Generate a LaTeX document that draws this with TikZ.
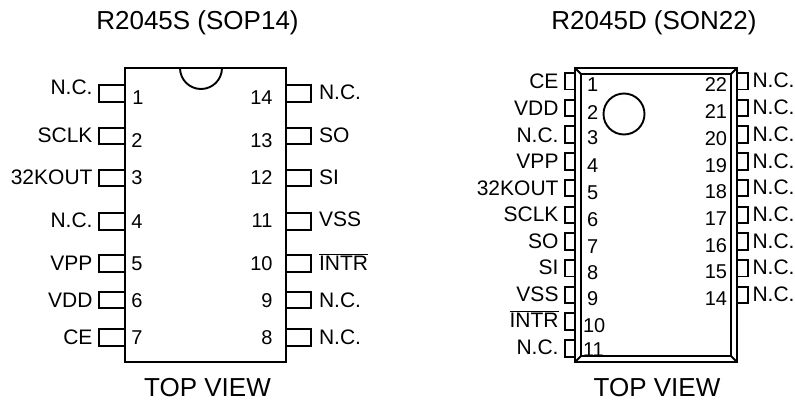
\documentclass[tikz,border=0pt]{standalone}
\usepackage{fontspec}
\setmainfont{Liberation Sans}
\usepackage{tikz}
\newdimen\pinHeight
\pinHeight=16.5pt

\begin{document}
\begin{tikzpicture}[
    x=1pt,y=-1pt,
    line width=1.9pt,
    chip/.style={%
      draw,
      rectangle,
      fill=white,
      inner sep=0pt,
      outer sep=0pt,
    },
    pinbox/.style={%
      chip,
      minimum height=\pinHeight,
    },
    lbl/.style={%
      inner sep=0pt,
      outer sep=0pt,
      text height=15pt,
      text depth=0pt,
      font=\fontsize{21}{21}\selectfont,
    },
    num/.style={%
      lbl,
      text height=14pt,
      font=\fontsize{20}{20}\selectfont,
    },
    caption/.style={%
      lbl,
      text height=18.6pt,
      font=\fontsize{26}{26}\selectfont,
    },
  ]
    \useasboundingbox (0,0) rectangle (795,401);

    \node [caption] (titleS) at (197.5,20) {R2045S (SOP14)};
    \node [caption] (titleD) at (654,20) {R2045D (SON22)};
    \node [caption] (viewS) at (207.5,387.5) {TOP VIEW};
    \node [caption] (viewD) at (657,387.5) {TOP VIEW};

    % SOP14
    \foreach \n/\y/\t/\ty in {1/93.5/N.C./87,2/136/SCLK/135,3/178/32KOUT/177,
        4/221.5/N.C./220,5/263.5/VPP/263,6/300/VDD/300,7/337.5/CE/337} {
      \node [pinbox,minimum width=32pt] (pl\n) at (115,\y) {};
      \node [lbl,anchor=east] (tl\n) at (92.5,\ty) {\t};
    }
    \foreach \n/\y/\t/\ty in {14/93.5/N.C./92,13/136/SO/135,12/178/SI/177,
        11/221.5/VSS/219,10/263.5/$\overline{\hbox{INTR}}$/263,9/300/N.C./300,8/337.5/N.C./337} {
      \node [pinbox,minimum width=32pt] (pr\n) at (295,\y) {};
      \node [lbl,anchor=west] (tr\n) at (319,\ty) {\t};
    }
    \node [chip,minimum width=161pt,minimum height=294pt] (sop) at (205.5,215) {};
    \draw (180,68) arc [start angle=180,end angle=0,radius=21];
    \foreach \n/\x/\y in {1/138/98,2/137/140,3/137/177,4/137/221,5/137/263,6/137/300,7/137/337} {
      \node [num] (nl\n) at (\x,\y) {\n};
    }
    \foreach \n/\y in {14/98,13/140,12/177,11/220,10/263,9/300,8/337} {
      \node [num,anchor=east] (nr\n) at (272.5,\y) {\n};
    }

    % SON22
    \foreach \i/\t/\ty in {1/CE/81,2/VDD/108,3/N.C./135,4/VPP/161,5/32KOUT/188,6/SCLK/214,
        7/SO/241,8/SI/267,9/VSS/294,10/$\overline{\hbox{INTR}}$/320,11/N.C./347} {
      \node [pinbox,minimum width=20pt] (ql\i) at (575,{81.3+26.7*(\i-1)}) {};
      \node [lbl,anchor=east] (ul\i) at (558.5,\ty) {\t};
    }
    \foreach \i/\n in {0/22,1/21,2/20,3/19,4/18,5/17,6/16,7/15,8/14} {
      \node [pinbox,minimum width=21pt] (qr\n) at (737.5,{81.3+26.7*\i}) {};
      \node [lbl,anchor=west] (ur\n) at (752.5,{80.5+26.7*\i}) {N.C.};
    }
    \node [chip,minimum width=162pt,minimum height=294pt] (son) at (656,215) {};
    \node [chip,minimum width=150pt,minimum height=282pt] (sonin) at (656,215) {};
    \draw (son.north west) -- (sonin.north west);
    \draw (son.north east) -- (sonin.north east);
    \draw (son.south west) -- (sonin.south west);
    \draw (son.south east) -- (sonin.south east);
    \node [draw,circle,inner sep=0pt,minimum size=41pt] (mark) at (624,114) {};
    \foreach \n/\x/\y in {1/587/85,2/587/113,3/587/138,4/587/165,5/587/192,6/587/219,7/587/246,8/587/272,9/587/298,10/583/325,11/583/349} {
      \node [num,anchor=west] (ml\n) at (\x,\y) {\n};
    }
    \foreach \i/\n in {0/22,1/21,2/20,3/19,4/18,5/17,6/16,7/15,8/14} {
      \node [num,anchor=east] (mr\n) at (727,{85+26.7*\i}) {\n};
    }
\end{tikzpicture}
\end{document}
